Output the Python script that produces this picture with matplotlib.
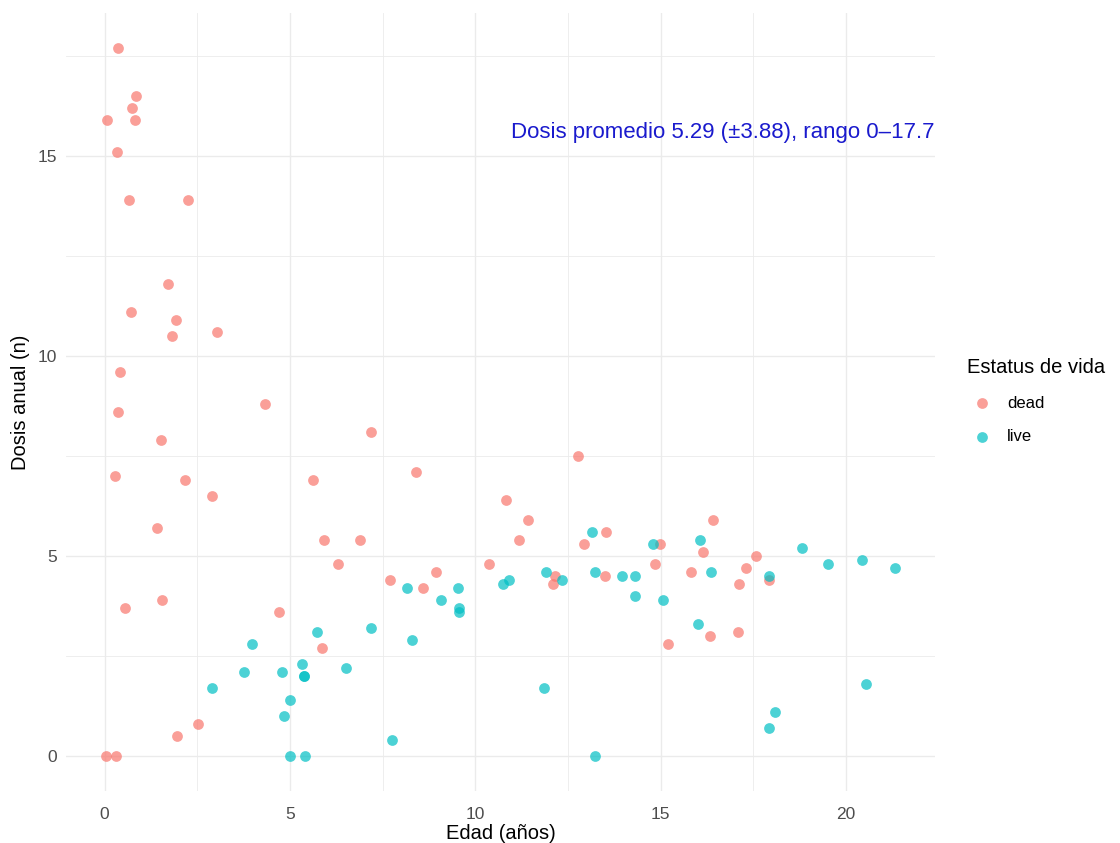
import matplotlib.pyplot as plt
import numpy as np

plt.rcParams['font.family'] = ['Liberation Sans', 'DejaVu Sans']

# dead
dead_edad = [0.35, 0.86, 0.75, 0.07, 0.83, 0.34, 0.66, 2.24, 1.70, 0.72,
             1.93, 1.82, 3.02, 0.41, 4.33, 0.35, 1.52, 0.29, 2.18, 2.90,
             5.63, 1.42, 0.55, 1.56, 4.71, 2.53, 1.95, 0.04, 0.30, 7.18,
             8.40, 10.83, 11.42, 11.19, 5.91, 6.88, 6.30, 10.38, 7.69, 8.94,
             8.59, 12.10, 5.86, 12.76, 13.52, 12.94, 14.98, 16.40, 16.15, 17.57,
             14.85, 17.30, 12.15, 13.51, 15.83, 17.10, 17.93, 16.32, 17.08, 15.20]
dead_dosis = [17.7, 16.5, 16.2, 15.9, 15.9, 15.1, 13.9, 13.9, 11.8, 11.1,
              10.9, 10.5, 10.6, 9.6, 8.8, 8.6, 7.9, 7.0, 6.9, 6.5,
              6.9, 5.7, 3.7, 3.9, 3.6, 0.8, 0.5, 0.0, 0.0, 8.1,
              7.1, 6.4, 5.9, 5.4, 5.4, 5.4, 4.8, 4.8, 4.4, 4.6,
              4.2, 4.3, 2.7, 7.5, 5.6, 5.3, 5.3, 5.9, 5.1, 5.0,
              4.8, 4.7, 4.5, 4.5, 4.6, 4.3, 4.4, 3.0, 3.1, 2.8]

# live
live_edad = [3.97, 3.77, 4.79, 5.33, 5.39, 5.39, 2.89, 5.00, 4.85, 5.00,
             5.41, 8.17, 9.53, 9.08, 9.55, 9.55, 10.76, 10.90, 11.90, 5.72,
             7.18, 8.29, 6.51, 7.75, 11.86, 13.15, 14.80, 16.06, 12.35, 13.24,
             13.97, 14.31, 14.30, 15.07, 16.35, 17.92, 16.01, 18.81, 19.52, 20.44,
             21.32, 20.53, 18.08, 17.92, 13.23]
live_dosis = [2.8, 2.1, 2.1, 2.3, 2.0, 2.0, 1.7, 1.4, 1.0, 0.0,
              0.0, 4.2, 4.2, 3.9, 3.7, 3.6, 4.3, 4.4, 4.6, 3.1,
              3.2, 2.9, 2.2, 0.4, 1.7, 5.6, 5.3, 5.4, 4.4, 4.6,
              4.5, 4.5, 4.0, 3.9, 4.6, 4.5, 3.3, 5.2, 4.8, 4.9,
              4.7, 1.8, 1.1, 0.7, 0.0]

fig = plt.figure(figsize=(11.2, 8.43), dpi=100)
ax = fig.add_axes([0.0593, 0.0612, 0.7752, 0.9238])

ax.scatter(dead_edad, dead_dosis, s=60, color='#F8766D', alpha=0.7,
           linewidths=0, label='dead', zorder=3)
ax.scatter(live_edad, live_dosis, s=60, color='#00BFC4', alpha=0.7,
           linewidths=0, label='live', zorder=3)

ax.set_xlim(-1.03, 22.39)
ax.set_ylim(-0.885, 18.585)
ax.set_xticks([0, 5, 10, 15, 20])
ax.set_yticks([0, 5, 10, 15])
ax.set_xticks(np.arange(2.5, 22.5, 5), minor=True)
ax.set_yticks(np.arange(2.5, 18.5, 5), minor=True)
ax.grid(True, which='major', color='#EBEBEB', linewidth=1.0, zorder=0)
ax.grid(True, which='minor', color='#EBEBEB', linewidth=0.6, zorder=0)
ax.set_axisbelow(True)
for sp in ax.spines.values():
    sp.set_visible(False)
ax.tick_params(which='both', length=0, labelsize=12.5, labelcolor='#4D4D4D')
ax.tick_params(axis='x', pad=11)
ax.tick_params(axis='y', pad=7)

ax.set_xlabel('Edad (años)', fontsize=14.5, labelpad=2)
ax.set_ylabel('Dosis anual (n)', fontsize=14.5, labelpad=5)

ax.text(22.39, 15.58, 'Dosis promedio 5.29 (±3.88), rango 0–17.7',
        ha='right', va='center', fontsize=16, color='#1a1acd')

leg = ax.legend(loc='upper left', bbox_to_anchor=(0.850, 0.593),
                bbox_transform=fig.transFigure, frameon=False,
                title='Estatus de vida', fontsize=12, title_fontsize=14.5,
                alignment='left', handletextpad=0.6, labelspacing=1.12,
                handlelength=1.8, markerscale=1.0)

fig.savefig('out.png', dpi=100)
